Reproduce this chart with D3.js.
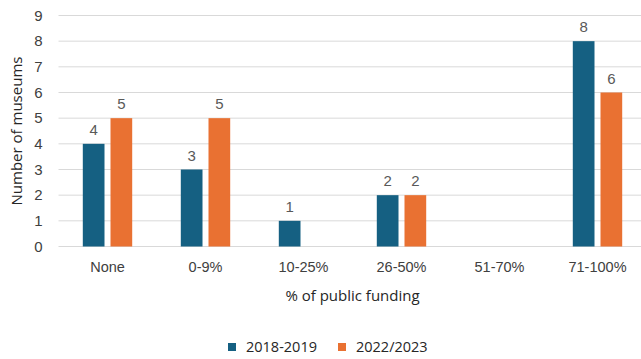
<!DOCTYPE html>
<html>
<head>
<meta charset="utf-8">
<script src="https://cdn.jsdelivr.net/npm/d3@7"></script>
<style>
  html, body { margin: 0; padding: 0; background: #fff; }
  svg { display: block; }
</style>
</head>
<body>
<svg id="chart" width="641" height="359"></svg>
<script>
// Museums by share of public funding, two survey periods
const categories = ["None", "0-9%", "10-25%", "26-50%", "51-70%", "71-100%"];
const seriesNames = ["2018-2019", "2022/2023"];
const values2018 = [4, 3, 1, 2, 0, 8];
const values2022 = [5, 5, 0, 2, 0, 6];
const yTicks = [0, 1, 2, 3, 4, 5, 6, 7, 8, 9];
const colors = ["#156082", "#E97132"];

const svg = d3.select("#chart");
const width = 641, height = 359;
const plot = { left: 58.5, right: 646.5, top: 15.5, bottom: 246.5 };

const x = d3.scaleBand().domain(categories).range([plot.left, plot.right]).paddingInner(0).paddingOuter(0);
const y = d3.scaleLinear().domain([0, 9]).range([plot.bottom, plot.top]);
const barW = 21.7, gap = 6;
const xs = d3.scaleOrdinal().domain(seriesNames).range([-(gap / 2 + barW), gap / 2]);

const numFont = "'Liberation Sans', Arial, sans-serif";
const titleFont = "'Open Sans', 'Noto Sans', sans-serif";

// gridlines
svg.append("g").selectAll("line").data(yTicks).join("line")
  .attr("x1", plot.left).attr("x2", width)
  .attr("y1", d => y(d)).attr("y2", d => y(d))
  .attr("stroke", "#d9d9d9").attr("stroke-width", 1);

// y axis labels
const yAxis = d3.axisLeft(y).tickValues(yTicks).tickSize(0).tickPadding(0);
const gy = svg.append("g").attr("transform", `translate(${plot.left - 16},0)`).call(yAxis);
gy.select(".domain").remove();
gy.selectAll("text").attr("font-family", numFont).attr("font-size", 15).attr("fill", "#404040");

// x axis labels
const xAxis = d3.axisBottom(x).tickSize(0).tickPadding(0);
const gx = svg.append("g").attr("transform", `translate(0,${plot.bottom + 15})`).call(xAxis);
gx.select(".domain").remove();
gx.selectAll("text").attr("font-family", numFont).attr("font-size", 14.5).attr("fill", "#404040");

// bars
const rows = categories.map((c, i) => ({ cat: c, vals: [values2018[i], values2022[i]] }));
const groups = svg.append("g").selectAll("g").data(rows).join("g")
  .attr("transform", d => `translate(${x(d.cat) + x.bandwidth() / 2},0)`);

groups.selectAll("rect")
  .data(d => d.vals.map((v, j) => ({ v, s: seriesNames[j], j })).filter(e => e.v > 0))
  .join("rect")
  .attr("x", e => xs(e.s))
  .attr("y", e => y(e.v))
  .attr("width", barW)
  .attr("height", e => y(0) - y(e.v))
  .attr("fill", e => colors[e.j]);

groups.selectAll("text")
  .data(d => d.vals.map((v, j) => ({ v, s: seriesNames[j], j })).filter(e => e.v > 0))
  .join("text")
  .attr("x", e => xs(e.s) + barW / 2)
  .attr("y", e => y(e.v) - 9)
  .attr("text-anchor", "middle")
  .attr("font-family", numFont).attr("font-size", 15).attr("fill", "#595959")
  .text(e => e.v);

// axis titles
svg.append("text")
  .attr("x", (plot.left + plot.right) / 2).attr("y", 301)
  .attr("text-anchor", "middle")
  .attr("font-family", titleFont).attr("font-size", 15).attr("fill", "#262626")
  .text("% of public funding");

svg.append("text")
  .attr("transform", `translate(22,${(plot.top + plot.bottom) / 2}) rotate(-90)`)
  .attr("text-anchor", "middle")
  .attr("font-family", titleFont).attr("font-size", 15).attr("fill", "#262626")
  .text("Number of museums");

// legend
const legendX = [228, 338];
const leg = svg.append("g").selectAll("g").data(seriesNames).join("g")
  .attr("transform", (d, i) => `translate(${legendX[i]},343)`);
leg.append("rect").attr("width", 8).attr("height", 8).attr("fill", (d, i) => colors[i]);
leg.append("text").attr("x", 18).attr("y", 9)
  .attr("font-family", titleFont).attr("font-size", 14.5).attr("fill", "#262626")
  .text(d => d);
</script>
</body>
</html>
